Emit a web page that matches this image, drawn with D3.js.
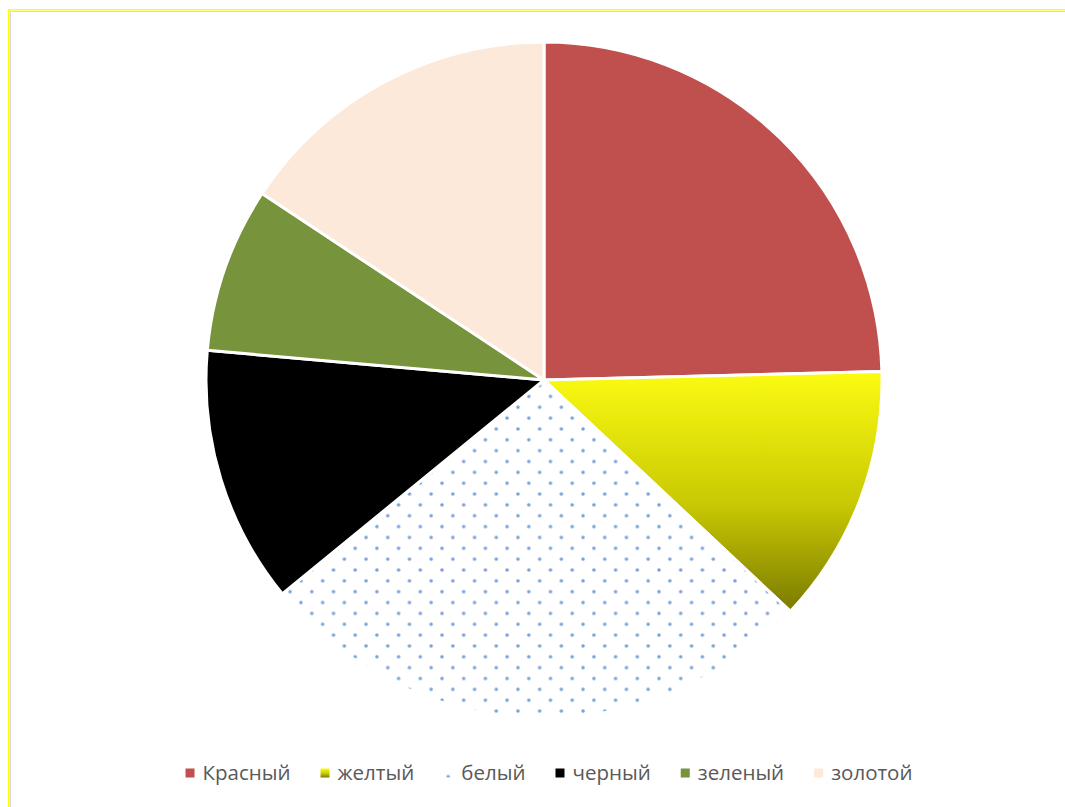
<!DOCTYPE html>
<html>
<head>
<meta charset="utf-8">
<script src="https://cdn.jsdelivr.net/npm/d3@7"></script>
<style>
  body { margin: 0; background: #fff; }
  svg { display: block; }
</style>
</head>
<body>
<script>
// data
const names = ["Красный", "желтый", "белый", "черный", "зеленый", "золотой"];
const values = [24.6, 12.4, 27.1, 12.3, 7.9, 15.7];
const colors = ["#c0504d", "url(#yellowGrad)", "url(#dots)", "#000000", "#77933c", "#fde9d9"];
const legendColors = ["#c0504d", "url(#yellowGrad)", "url(#dotsLegend)", "#000000", "#77933c", "#fde9d9"];

const W = 1065, H = 807;
const cx = 544, cy = 380, r = 338;

const svg = d3.select("body").append("svg")
    .attr("width", W)
    .attr("height", H);

const defs = svg.append("defs");

// yellow -> olive gradient
const grad = defs.append("linearGradient")
    .attr("id", "yellowGrad")
    .attr("x1", 0).attr("y1", 0).attr("x2", 0).attr("y2", 1);
grad.append("stop").attr("offset", "0%").attr("stop-color", "#fbfb12");
grad.append("stop").attr("offset", "55%").attr("stop-color", "#c9c904");
grad.append("stop").attr("offset", "100%").attr("stop-color", "#7a7a00");

// dotted pattern for "белый"
function dotPattern(id, ox, oy) {
    const step = 21.7;
    const p = defs.append("pattern")
        .attr("id", id)
        .attr("patternUnits", "userSpaceOnUse")
        .attr("x", ox).attr("y", oy)
        .attr("width", step).attr("height", step);
    p.append("rect").attr("width", step).attr("height", step).attr("fill", "#fff");
    const pts = [[0, 0], [step, 0], [0, step], [step, step], [step / 2, step / 2]];
    pts.forEach(function(d) {
        p.append("circle")
            .attr("cx", d[0]).attr("cy", d[1])
            .attr("r", 1.8)
            .attr("fill", "#5f8fd2")
            .attr("opacity", 0.85);
    });
}
dotPattern("dots", 6.5, 16.4);

// frame (yellow + grey line, runs off right/bottom)
svg.append("rect")
    .attr("x", 8.75).attr("y", 9.75)
    .attr("width", 1200).attr("height", 1200)
    .attr("fill", "none")
    .attr("stroke", "#ffff00")
    .attr("stroke-width", 1.5);
svg.append("rect")
    .attr("x", 10.5).attr("y", 11.5)
    .attr("width", 1200).attr("height", 1200)
    .attr("fill", "none")
    .attr("stroke", "#d9d9d9")
    .attr("stroke-width", 1);

// pie
const pie = d3.pie().sort(null).value(d => d)(values);
const arc = d3.arc().innerRadius(0).outerRadius(r);

const g = svg.append("g")
    .attr("transform", "translate(" + cx + "," + cy + ")");

g.selectAll("path")
    .data(pie)
    .enter().append("path")
    .attr("d", arc)
    .attr("fill", (d, i) => colors[i])
    .attr("stroke", "#fff")
    .attr("stroke-width", 3)
    .attr("stroke-linejoin", "round");

// legend
const legY = 772;
const box = 9, gapTxt = 8, gapItem = 30;
const legend = svg.append("g");

const items = legend.selectAll("g")
    .data(names)
    .enter().append("g");

items.append("text")
    .attr("font-family", "'Open Sans', sans-serif")
    .attr("font-size", 20.5)
    .attr("fill", "#595959")
    .attr("dominant-baseline", "central")
    .text(d => d);

let widths = [];
items.select("text").each(function() { widths.push(this.getComputedTextLength()); });
let total = 0;
widths.forEach(function(w, i) { total += box + gapTxt + w + (i < widths.length - 1 ? gapItem : 0); });

let x = 549 - total / 2;
const starts = [];
widths.forEach(function(w) { starts.push(x); x += box + gapTxt + w + gapItem; });

// legend pattern placed so one dot shows in the marker
dotPattern("dotsLegend", starts[2] + box / 2 - 21.7 / 2, legY + 3 - 21.7 / 2);

items.attr("transform", (d, i) => "translate(" + starts[i] + "," + legY + ")");
items.insert("rect", "text")
    .attr("x", 0).attr("y", -box / 2 + 1)
    .attr("width", box).attr("height", box)
    .attr("fill", (d, i) => legendColors[i]);
items.select("text").attr("x", box + gapTxt).attr("y", 0);
</script>
</body>
</html>
